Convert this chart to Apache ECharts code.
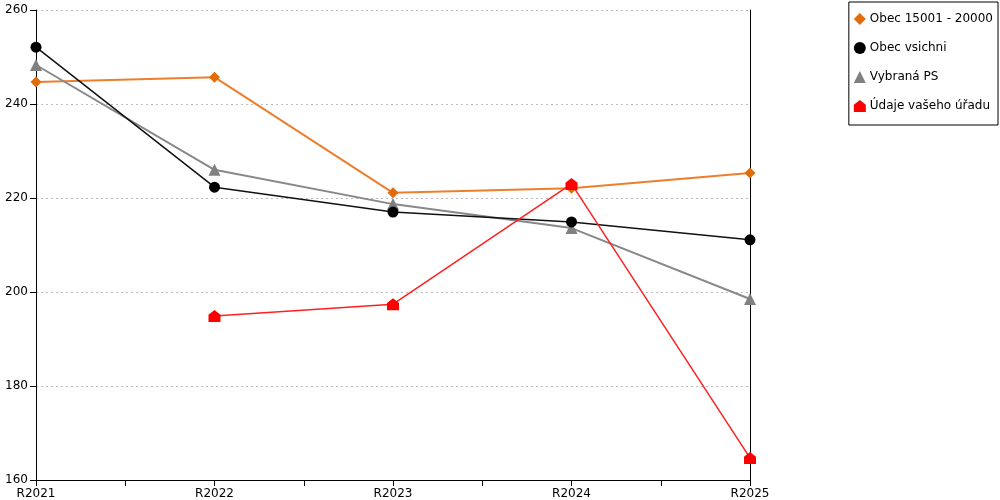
<!DOCTYPE html>
<html>
<head>
<meta charset="utf-8">
<script src="https://cdn.jsdelivr.net/npm/echarts@6/dist/echarts.min.js"></script>
<style>
  html, body { margin: 0; padding: 0; background: #fff; }
  #chart { width: 1000px; height: 500px; }
</style>
</head>
<body>
<div id="chart"></div>
<script>
// roky na ose x
var categories = ['R2021', 'R2022', 'R2023', 'R2024', 'R2025'];

var obec15001 = [244.7, 245.7, 221.1, 222.1, 225.3];
var obecVsichni = [252.1, 222.3, 217.0, 214.9, 211.1];
var vybranaPS = [248.3, 226.0, 218.7, 213.6, 198.5];
var udajeUradu = [null, 194.9, 197.4, 223.0, 164.7];

var seriesNames = ['Obec 15001 - 20000', 'Obec vsichni', 'Vybraná PS', 'Údaje vašeho úřadu'];

// x je index kategorie, osa je value kvuli mezi-tickum
function toPoints(arr) {
  var out = [];
  arr.forEach(function (v, i) {
    if (v !== null) out.push([i, v]);
  });
  return out;
}

var house = 'path://M0,4 L5,0 L10,4 L10,10 L0,10 Z';
var font = 'DejaVu Sans';

var myChart = echarts.init(document.getElementById('chart'));

var option = {
  animation: false,
  backgroundColor: '#fff',
  textStyle: { fontFamily: font },
  grid: { left: 36, right: 250, top: 10, bottom: 20 },
  legend: {
    orient: 'vertical',
    right: 2,
    top: 2,
    padding: [11, 5, 13, 5],
    itemGap: 17,
    itemWidth: 12,
    itemHeight: 12,
    backgroundColor: '#fff',
    borderColor: '#000',
    borderWidth: 1,
    borderRadius: 0,
    textStyle: { fontFamily: font, fontSize: 12, color: '#000', padding: [0, 0, 0, -1] },
    data: [
      { name: seriesNames[0], icon: 'diamond' },
      { name: seriesNames[1], icon: 'circle' },
      { name: seriesNames[2], icon: 'triangle' },
      { name: seriesNames[3], icon: house }
    ]
  },
  xAxis: {
    type: 'value',
    min: 0,
    max: categories.length - 1,
    interval: 0.5,
    axisLine: { lineStyle: { color: '#000', width: 1 } },
    axisTick: { show: true, length: 6, inside: false, lineStyle: { color: '#000' } },
    splitLine: { show: false },
    axisLabel: {
      color: '#000',
      fontSize: 12,
      margin: 8,
      showMinLabel: true,
      showMaxLabel: true,
      formatter: function (v) {
        return Number.isInteger(v) ? categories[v] : '';
      }
    }
  },
  yAxis: [{
    type: 'value',
    min: 160,
    max: 260,
    interval: 20,
    axisLine: { show: true, lineStyle: { color: '#000', width: 1 } },
    axisTick: { show: true, length: 6, lineStyle: { color: '#000' } },
    axisLabel: { color: '#000', fontSize: 12, margin: 8 },
    splitLine: { show: true, lineStyle: { color: '#bbb', type: [2, 3], width: 1 } }
  }, {
    type: 'value',
    min: 160,
    max: 260,
    interval: 20,
    position: 'right',
    axisLine: { show: true, lineStyle: { color: '#000', width: 1 } },
    axisTick: { show: false },
    axisLabel: { show: false },
    splitLine: { show: false }
  }],
  series: [
    {
      name: seriesNames[0],
      type: 'line',
      data: toPoints(obec15001),
      symbol: 'diamond',
      symbolSize: 11,
      color: '#E36C0A',
      lineStyle: { width: 2, color: '#EC7F2E' },
      z: 2
    },
    {
      name: seriesNames[1],
      type: 'line',
      data: toPoints(obecVsichni),
      symbol: 'circle',
      symbolSize: 11,
      color: '#000',
      lineStyle: { width: 1.5, color: '#111' },
      z: 3
    },
    {
      name: seriesNames[2],
      type: 'line',
      data: toPoints(vybranaPS),
      symbol: 'triangle',
      symbolSize: 12,
      color: '#808080',
      lineStyle: { width: 2, color: '#888' },
      z: 2
    },
    {
      name: seriesNames[3],
      type: 'line',
      data: toPoints(udajeUradu),
      symbol: house,
      symbolSize: 12,
      color: '#ff0000',
      lineStyle: { width: 1.5, color: '#ff2020' },
      z: 4
    }
  ]
};

myChart.setOption(option);
</script>
</body>
</html>
